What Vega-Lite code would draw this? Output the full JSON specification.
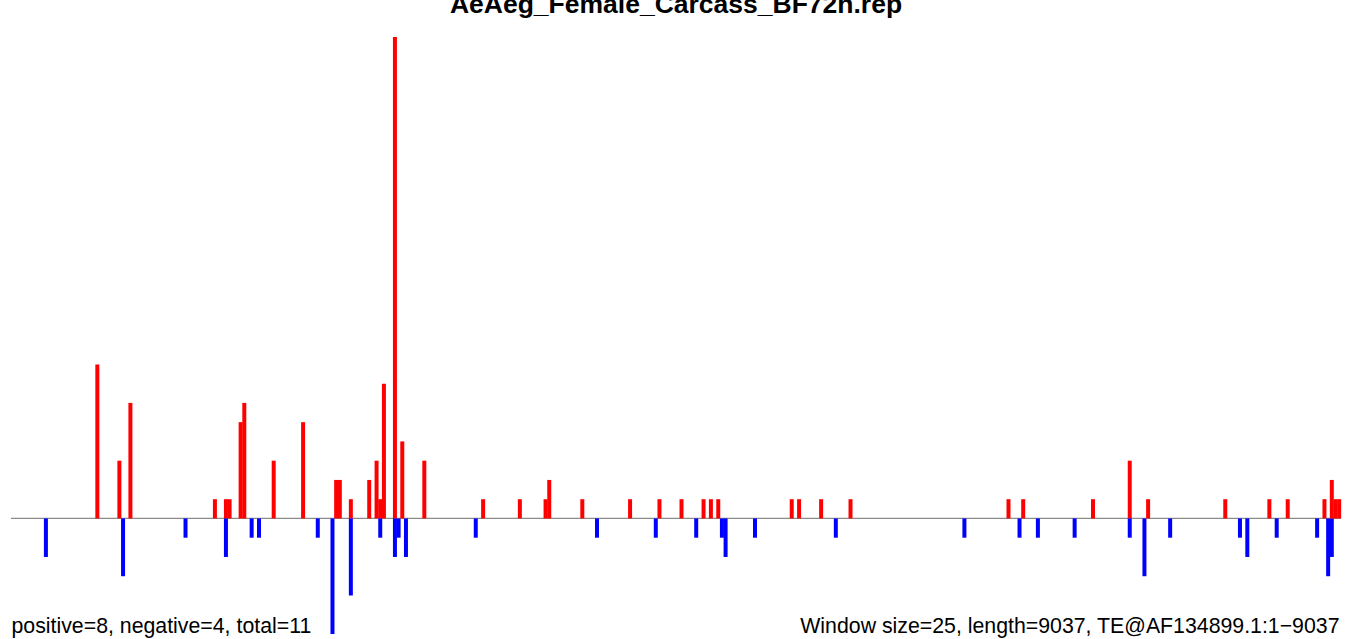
{
  "$schema": "https://vega.github.io/schema/vega-lite/v6.json",
  "width": 1330,
  "height": 597,
  "autosize": {"type": "none"},
  "padding": {"left": 11, "top": 37, "right": 8, "bottom": 5},
  "background": "white",
  "config": {"view": {"stroke": null}},
  "title": {
    "text": "AeAeg_Female_Carcass_BF72h.rep",
    "font": "Liberation Sans",
    "fontSize": 26.5,
    "fontWeight": "bold",
    "color": "black",
    "anchor": "middle",
    "offset": 19
  },
  "layer": [
    {
      "data": {"values": [{}]},
      "mark": {"type": "rule", "color": "#8c8c8c", "strokeWidth": 1.3},
      "encoding": {
        "y": {"datum": 0, "type": "quantitative", "scale": {"domain": [-6, 25], "nice": false, "zero": false}, "axis": null}
      }
    },
    {
      "data": {
        "values": [
          {"win": 9, "v": -2}, {"win": 23, "v": 8}, {"win": 29, "v": 3}, {"win": 30, "v": -3},
          {"win": 32, "v": 6}, {"win": 47, "v": -1}, {"win": 55, "v": 1}, {"win": 58, "v": 1},
          {"win": 58, "v": -2}, {"win": 59, "v": 1}, {"win": 62, "v": 5}, {"win": 63, "v": 6},
          {"win": 65, "v": -1}, {"win": 67, "v": -1}, {"win": 71, "v": 3}, {"win": 79, "v": 5},
          {"win": 83, "v": -1}, {"win": 87, "v": -6}, {"win": 88, "v": 2}, {"win": 89, "v": 2},
          {"win": 92, "v": 1}, {"win": 92, "v": -4}, {"win": 97, "v": 2}, {"win": 99, "v": 3},
          {"win": 100, "v": 1}, {"win": 100, "v": -1}, {"win": 101, "v": 7}, {"win": 104, "v": 25},
          {"win": 104, "v": -2}, {"win": 105, "v": -1}, {"win": 106, "v": 4}, {"win": 107, "v": -2},
          {"win": 112, "v": 3}, {"win": 126, "v": -1}, {"win": 128, "v": 1}, {"win": 138, "v": 1},
          {"win": 145, "v": 1}, {"win": 146, "v": 2}, {"win": 155, "v": 1}, {"win": 159, "v": -1},
          {"win": 168, "v": 1}, {"win": 175, "v": -1}, {"win": 176, "v": 1}, {"win": 182, "v": 1},
          {"win": 186, "v": -1}, {"win": 188, "v": 1}, {"win": 190, "v": 1}, {"win": 192, "v": 1},
          {"win": 193, "v": -1}, {"win": 194, "v": -2}, {"win": 202, "v": -1}, {"win": 212, "v": 1},
          {"win": 214, "v": 1}, {"win": 220, "v": 1}, {"win": 224, "v": -1}, {"win": 228, "v": 1},
          {"win": 259, "v": -1}, {"win": 271, "v": 1}, {"win": 274, "v": -1}, {"win": 275, "v": 1},
          {"win": 279, "v": -1}, {"win": 289, "v": -1}, {"win": 294, "v": 1}, {"win": 304, "v": 3},
          {"win": 304, "v": -1}, {"win": 308, "v": -3}, {"win": 309, "v": 1}, {"win": 315, "v": -1},
          {"win": 330, "v": 1}, {"win": 334, "v": -1}, {"win": 336, "v": -2}, {"win": 342, "v": 1},
          {"win": 344, "v": -1}, {"win": 347, "v": 1}, {"win": 355, "v": -1}, {"win": 357, "v": 1},
          {"win": 358, "v": -3}, {"win": 359, "v": -2}, {"win": 359, "v": 2}, {"win": 360, "v": 1},
          {"win": 361, "v": 1}
        ]
      },
      "mark": {"type": "bar", "size": 4},
      "encoding": {
        "x": {"field": "win", "type": "quantitative", "scale": {"domain": [-0.5, 361.5], "nice": false, "zero": false, "padding": 0}, "axis": null},
        "y": {"field": "v", "type": "quantitative", "scale": {"domain": [-6, 25], "nice": false, "zero": false}, "axis": null},
        "y2": {"datum": 0},
        "color": {"condition": {"test": "datum.v > 0", "value": "#FF0000"}, "value": "#0000FF"}
      }
    },
    {
      "data": {"values": [{}]},
      "mark": {"type": "text", "font": "Liberation Sans", "fontSize": 21.3, "align": "left", "baseline": "alphabetic", "color": "black", "dy": -1, "dx": 0.5, "text": "positive=8, negative=4, total=11"},
      "encoding": {
        "x": {"datum": -0.5, "type": "quantitative"},
        "y": {"datum": -6, "type": "quantitative"}
      }
    },
    {
      "data": {"values": [{}]},
      "mark": {"type": "text", "font": "Liberation Sans", "fontSize": 21.3, "align": "right", "baseline": "alphabetic", "color": "black", "dy": -1, "dx": -1.5, "text": "Window size=25, length=9037, TE@AF134899.1:1\u22129037"},
      "encoding": {
        "x": {"datum": 361.5, "type": "quantitative"},
        "y": {"datum": -6, "type": "quantitative"}
      }
    }
  ]
}
